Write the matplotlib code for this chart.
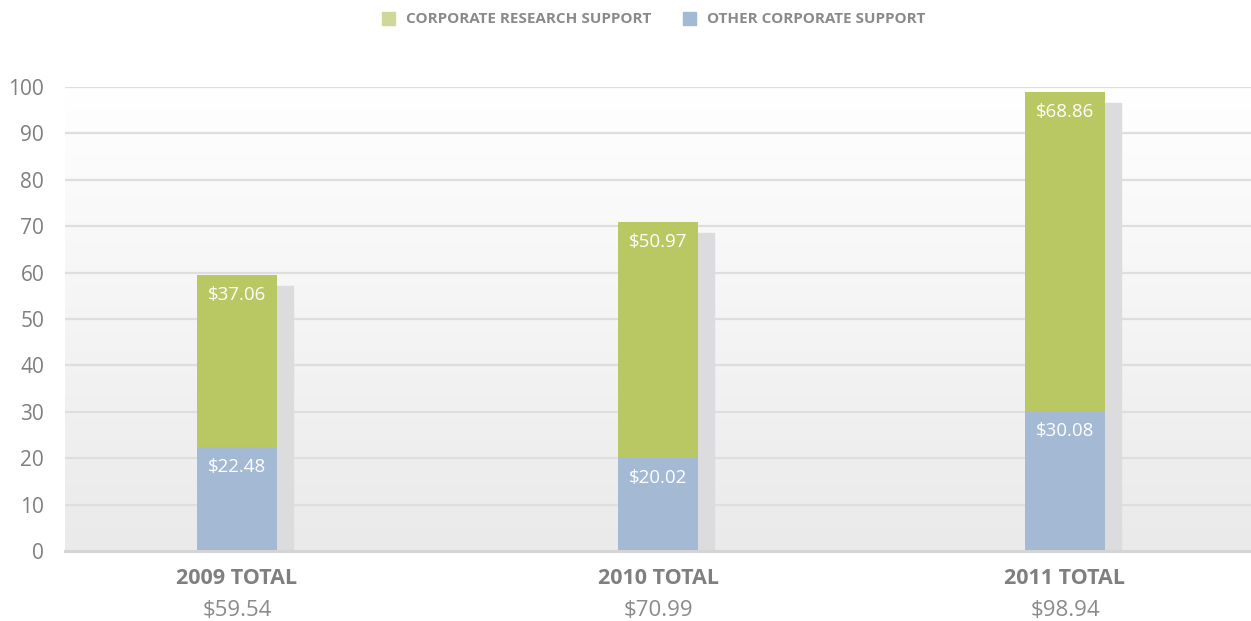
import numpy as np
import matplotlib.pyplot as plt
import matplotlib.transforms as mtransforms
from matplotlib.patches import Rectangle
from matplotlib.colors import LinearSegmentedColormap

plt.rcParams['font.family'] = ['Open Sans', 'DejaVu Sans']

years = ['2009', '2010', '2011']
other = [22.48, 20.02, 30.08]
research = [37.06, 50.97, 68.86]
totals = [59.54, 70.99, 98.94]

green = '#b9c862'
blue = '#a3b9d4'
shadow = '#dcdcde'
gray_txt = '#7f7f7f'

fig = plt.figure(figsize=(12.51, 6.21), dpi=100)
ax = fig.add_axes([65 / 1251, 70 / 621, 1186 / 1251, 464 / 621])

# pixel-like x scale, bars 80 px wide
ax.set_xlim(0, 1186)
ax.set_ylim(0, 100)
centers = [172, 593, 1000]
w = 80

# gradient background, white at top to light gray at bottom
grad = np.linspace(0, 1, 256).reshape(-1, 1)
ax.imshow(grad, extent=[0, 1186, 0, 100], aspect='auto', origin='upper',
          cmap=LinearSegmentedColormap.from_list('bg', ['#ffffff', '#eaeaea']),
          zorder=0)

for yv in range(10, 101, 10):
    ax.axhline(yv, color='#dedede', lw=1.6, zorder=1)
ax.axhline(0, color='#d4d4d4', lw=2.2, zorder=5, clip_on=False)

# drop shadows
sh = mtransforms.offset_copy(ax.transData, fig=fig, x=16, y=-11, units='dots')
for c, t in zip(centers, totals):
    ax.add_patch(Rectangle((c - w / 2, 0), w, t, color=shadow, transform=sh, zorder=2,
                           clip_box=ax.bbox))

ax.bar(centers, other, width=w, color=blue, zorder=3)
ax.bar(centers, research, width=w, bottom=other, color=green, zorder=3)

for c, o, r in zip(centers, other, research):
    ax.annotate(f'${o:.2f}', (c, o), xytext=(0, -20), textcoords='offset pixels',
                ha='center', va='center', color='white', fontsize=13.5, zorder=6)
    ax.annotate(f'${r:.2f}', (c, o + r), xytext=(0, -20), textcoords='offset pixels',
                ha='center', va='center', color='white', fontsize=13.5, zorder=6)

ax.set_yticks(range(0, 101, 10))
ax.set_yticklabels([str(v) for v in range(0, 101, 10)], color=gray_txt, fontsize=15)
ax.tick_params(axis='y', length=0, pad=15)
ax.set_xticks([])
for s in ax.spines.values():
    s.set_visible(False)

for c, yr, t in zip(centers, years, totals):
    ax.annotate(f'{yr} TOTAL', (c, 0), xytext=(0, -28), textcoords='offset pixels',
                ha='center', va='center', color=gray_txt, fontsize=15.5, fontweight='bold',
                annotation_clip=False)
    ax.annotate(f'${t:.2f}', (c, 0), xytext=(0, -59), textcoords='offset pixels',
                ha='center', va='center', color='#8a8a8a', fontsize=16,
                annotation_clip=False)

# legend at top
legend_items = [('CORPORATE RESEARCH SUPPORT', '#cfd898', 382), ('OTHER CORPORATE SUPPORT', blue, 683)]
for label, col, px in legend_items:
    fig.patches.append(Rectangle((px / 1251, 1 - 25 / 621), 13 / 1251, 13 / 621, color=col,
                                 transform=fig.transFigure, figure=fig))
    fig.text((px + 24) / 1251, 1 - 19 / 621, label, ha='left', va='center',
             color='#8a8a8a', fontsize=11, fontweight='bold')

fig.savefig('out.png', dpi=100)
